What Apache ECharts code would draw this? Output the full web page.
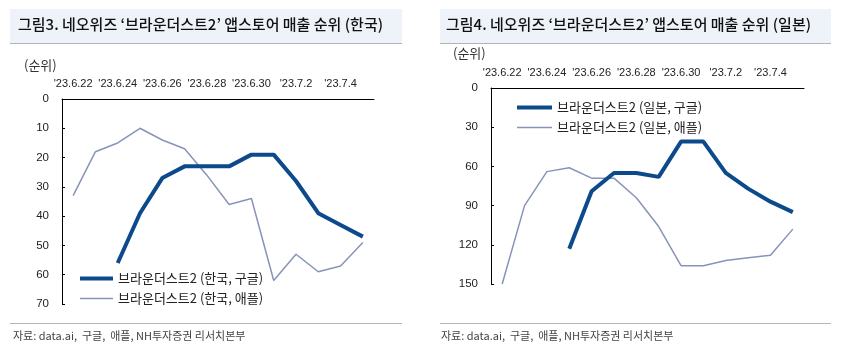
<!DOCTYPE html>
<html><head><meta charset="utf-8">
<script src="https://cdn.jsdelivr.net/npm/echarts@6/dist/echarts.min.js"></script>
<style>html,body{margin:0;padding:0;background:#fff}#c{width:847px;height:354px}</style>
</head><body><div id="c"></div>
<script>
var dates = ["'23.6.22","'23.6.23","'23.6.24","'23.6.25","'23.6.26","'23.6.27","'23.6.28","'23.6.29","'23.6.30","'23.7.1","'23.7.2","'23.7.3","'23.7.4","'23.7.5"];
var krGoogle = [null,null,56,39,27,23,23,23,19,19,28,39,43,47];
var krApple  = [33,18,15,10,14,17,26,36,34,62,53,59,57,49];
var jpGoogle = [null,null,null,123,79,65,65,68,41,41,65,77,87,95];
var jpApple  = [150,90,64,61,69,69,84,106,136,136,132,130,128,108];
var krTicks = {min:0,max:70,interval:10};
var jpTicks = {min:0,max:150,interval:30};
var names = ['브라운더스트2 (한국, 구글)','브라운더스트2 (한국, 애플)','브라운더스트2 (일본, 구글)','브라운더스트2 (일본, 애플)'];
var titles = ["그림3. 네오위즈 ‘브라운더스트2’ 앱스토어 매출 순위 (한국)","그림4. 네오위즈 ‘브라운더스트2’ 앱스토어 매출 순위 (일본)"];
var source = '자료: data.ai,  구글,  애플, NH투자증권 리서치본부';

var FONT = '"Liberation Sans", Arial, sans-serif';
var KFONT = '"Noto Sans CJK KR", sans-serif';
var DARK = '#0c4a8b', LIGHT = '#8893ba';
var chart = echarts.init(document.getElementById('c'), null, {renderer:'canvas'});

function xAxis(gi){
  return {type:'category', gridIndex:gi, data:dates, position:'top', boundaryGap:true,
    axisLine:{lineStyle:{color:'#000',width:1}},
    axisTick:{inside:true,length:3,interval:1,lineStyle:{color:'#000'}},
    axisLabel:{interval:1,color:'#222',fontFamily:FONT,fontSize:11,margin:10},
    splitLine:{show:false}};
}
function yAxis(gi,t){
  return {type:'value', gridIndex:gi, inverse:true, min:t.min, max:t.max, interval:t.interval,
    axisLine:{show:true,lineStyle:{color:'#000',width:1}},
    axisTick:{show:true,inside:true,length:3,lineStyle:{color:'#000'}},
    axisLabel:{color:'#222',fontFamily:FONT,fontSize:11.5,margin:13},
    splitLine:{show:false}};
}
function line(name,data,gi,color,w){
  return {type:'line',name:name,data:data,xAxisIndex:gi,yAxisIndex:gi,symbol:'none',
    connectNulls:false,lineStyle:{color:color,width:w},itemStyle:{color:color},z:w>2?3:2,animation:false};
}
function legend(i0,i1,left,top,w){
  return {orient:'vertical',left:left,top:top,itemWidth:w,itemHeight:14,itemGap:7,padding:0,
    itemStyle:{opacity:0,borderWidth:0},
    data:[{name:names[i0],lineStyle:{width:4,color:DARK}},{name:names[i1],lineStyle:{width:1.5,color:LIGHT}}],
    textStyle:{fontFamily:KFONT,fontSize:13,color:'#222',padding:[0,0,0,0]},selectedMode:false};
}

chart.setOption({
  animation:false,
  graphic:[
    {type:'rect',shape:{x:10,y:9,width:392,height:34},style:{fill:'#eef2f9'},silent:true},
    {type:'line',shape:{x1:10,y1:43.5,x2:402,y2:43.5},style:{stroke:'#b4b4b4',lineWidth:1}},
    {type:'rect',shape:{x:440,y:9,width:391,height:34},style:{fill:'#eef2f9'},silent:true},
    {type:'line',shape:{x1:440,y1:43.5,x2:831,y2:43.5},style:{stroke:'#b4b4b4',lineWidth:1}},
    {type:'text',left:18,top:17,style:{text:titles[0],font:'500 15px '+KFONT,fill:'#111'}},
    {type:'text',left:446,top:17,style:{text:titles[1],font:'500 15px '+KFONT,fill:'#111'}},
    {type:'text',left:24,top:59,style:{text:'(순위)',font:'13px '+KFONT,fill:'#333'}},
    {type:'text',left:453,top:47,style:{text:'(순위)',font:'13px '+KFONT,fill:'#333'}},
    {type:'line',shape:{x1:10,y1:323.5,x2:402,y2:323.5},style:{stroke:'#b4b4b4',lineWidth:1}},
    {type:'line',shape:{x1:440,y1:323.5,x2:831,y2:323.5},style:{stroke:'#b4b4b4',lineWidth:1}},
    {type:'text',left:13,top:330,style:{text:source,font:'11px '+KFONT,fill:'#444'}},
    {type:'text',left:441,top:330,style:{text:source,font:'11px '+KFONT,fill:'#444'}}
  ],
  grid:[
    {left:62,top:99,width:312,height:205,containLabel:false},
    {left:491,top:88,width:313,height:196,containLabel:false}
  ],
  xAxis:[xAxis(0),xAxis(1)],
  yAxis:[yAxis(0,krTicks),yAxis(1,jpTicks)],
  legend:[legend(0,1,78,272,33), legend(2,3,515,101,35)],
  series:[
    line(names[0],krGoogle,0,DARK,4),
    line(names[1],krApple,0,LIGHT,1.5),
    line(names[2],jpGoogle,1,DARK,4),
    line(names[3],jpApple,1,LIGHT,1.5)
  ]
});
</script></body></html>
